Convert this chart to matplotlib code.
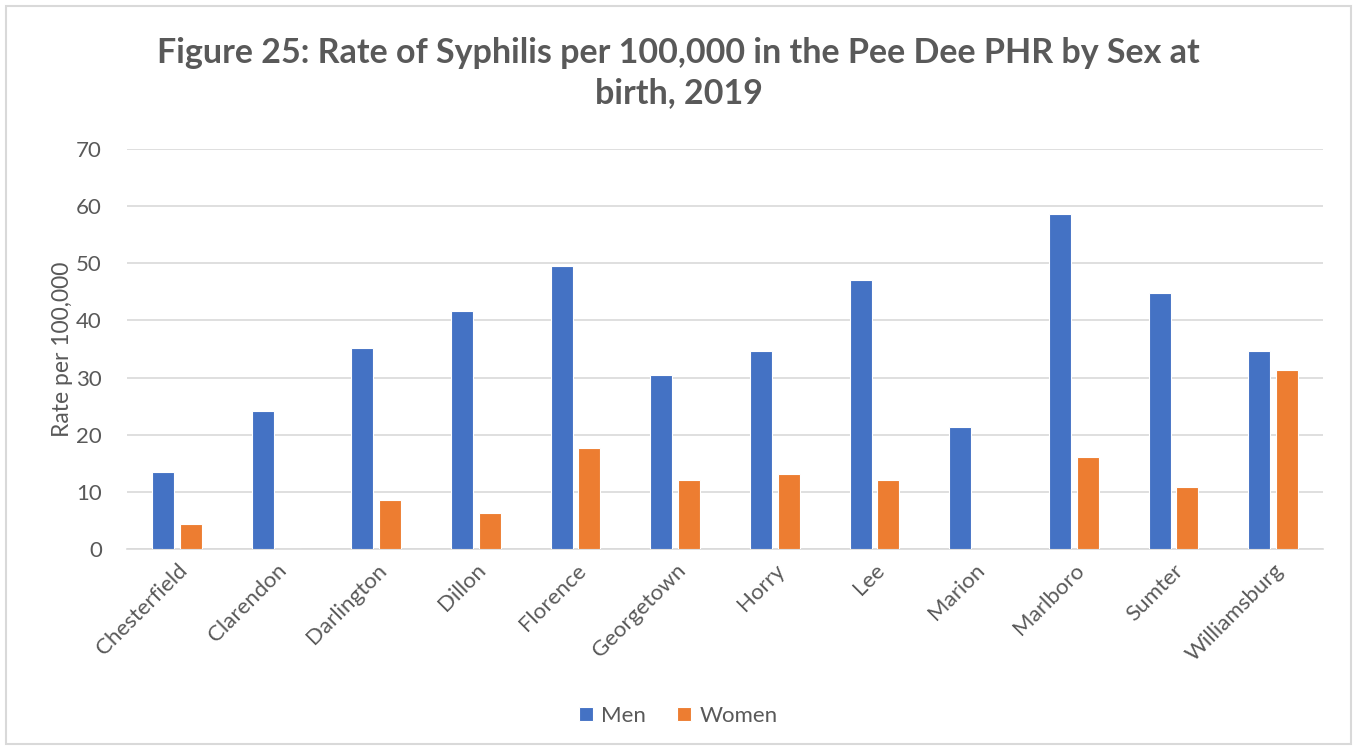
import matplotlib
matplotlib.use('Agg')
import matplotlib.pyplot as plt
import numpy as np
from matplotlib.patches import Rectangle

plt.rcParams['font.family'] = ['Lato', 'DejaVu Sans']

counties = ['Chesterfield', 'Clarendon', 'Darlington', 'Dillon', 'Florence',
            'Georgetown', 'Horry', 'Lee', 'Marion', 'Marlboro', 'Sumter',
            'Williamsburg']
men = [13.5, 24.2, 35.1, 41.6, 49.5, 30.4, 34.7, 47.1, 21.3, 58.6, 44.8, 34.7]
women = [4.3, 0, 8.5, 6.3, 17.6, 12.1, 13.1, 12.0, 0, 16.1, 10.8, 31.3]

title = 'Figure 25: Rate of Syphilis per 100,000 in the Pee Dee PHR by Sex at\nbirth, 2019'
text_col = '#595959'
blue = '#4472C4'
orange = '#ED7D31'

fig = plt.figure(figsize=(13.57, 7.5), dpi=100)
fig.patches.append(Rectangle((6/1357, 6/750), 1 - 12/1357, 1 - 12/750,
                             transform=fig.transFigure, fill=False,
                             edgecolor='#d9d9d9', linewidth=1.5))
ax = fig.add_axes([127/1357, 1 - 549/750, (1323 - 127)/1357, 400/750])

x = np.arange(len(counties))
w = 0.22
ax.bar(x - 0.14, men, w, color=blue, edgecolor='white', linewidth=0.8, label='Men', zorder=3)
ax.bar(x + 0.14, women, w, color=orange, edgecolor='white', linewidth=0.8, label='Women', zorder=3)

ax.set_xlim(-0.5, len(counties) - 0.5)
ax.set_ylim(0, 70)
ax.set_yticks(range(0, 71, 10))
ax.grid(axis='y', color='#d9d9d9', linewidth=1.2, zorder=0)
for s in ['top', 'right', 'left']:
    ax.spines[s].set_visible(False)
ax.spines['bottom'].set_color('#d9d9d9')
ax.spines['bottom'].set_linewidth(1.2)
ax.tick_params(length=0, colors=text_col, labelsize=16)
ax.tick_params(axis='y', pad=18)
ax.tick_params(axis='x', pad=8)
ax.set_xticks(x)
ax.set_xticklabels(counties, rotation=45, ha='right', rotation_mode='anchor')
ax.set_ylabel('Rate per 100,000', fontsize=16.5, color=text_col, labelpad=2)

fig.text(0.5, 1 - 73/750, title, ha='center', va='center', fontsize=24.5,
         fontweight='bold', color=text_col, linespacing=1.3)

fig.legend(loc='center', bbox_to_anchor=(0.5, 1 - 716/750), ncol=2, frameon=False,
           fontsize=16, labelcolor=text_col, handlelength=0.6, handleheight=0.6,
           columnspacing=1.4, handletextpad=0.4)

fig.savefig('out.png', dpi=100)
